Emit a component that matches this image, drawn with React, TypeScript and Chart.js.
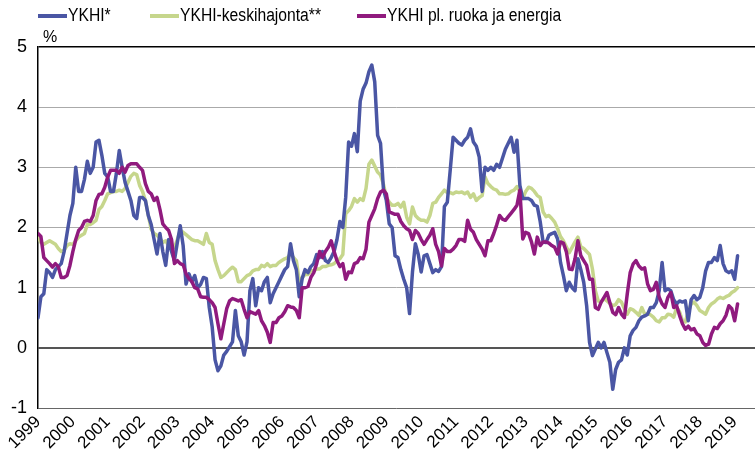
import React, { useEffect, useRef } from 'react';
import { Chart, registerables } from 'chart.js';

Chart.register(...registerables);

const yearLabels = ['1999','2000','2001','2002','2003','2004','2005','2006','2007','2008','2009','2010','2011','2012','2013','2014','2015','2016','2017','2018','2019'];

const seriesNames = ['YKHI*', 'YKHI-keskihajonta**', 'YKHI pl. ruoka ja energia'];

// Monthly values from Jan 1999
const ykhi = [
  0.5,0.85,0.9,1.3,1.25,1.17,1.3,1.35,1.4,1.6,1.9,2.2,
  2.4,3.0,2.6,2.6,2.8,3.1,2.9,3.0,3.42,3.45,3.2,2.9,
  2.84,2.6,2.6,2.9,3.28,3.0,2.75,2.6,2.45,2.2,2.15,2.5,
  2.5,2.45,2.2,2.05,1.8,1.56,1.9,1.6,1.37,1.8,1.6,1.45,
  1.75,2.03,1.7,1.06,1.23,1.1,1.2,1.0,1.05,1.17,1.15,0.67,
  0.35,-0.2,-0.38,-0.3,-0.12,-0.06,0.02,0.1,0.62,0.2,0.1,-0.12,
  0.1,0.95,1.15,0.7,1.0,0.95,1.1,1.17,0.75,0.9,1.0,1.1,
  1.2,1.3,1.35,1.73,1.45,1.3,0.85,1.15,1.3,1.25,1.35,1.4,
  1.55,1.5,1.6,1.45,1.42,1.5,1.6,1.8,2.1,2.0,2.5,3.42,
  3.35,3.56,3.26,4.1,4.3,4.4,4.59,4.7,4.42,3.53,3.4,2.64,
  2.45,2.06,2.0,1.53,1.5,1.3,1.14,1.0,0.57,1.26,1.73,1.55,
  1.26,1.53,1.55,1.4,1.25,1.3,1.27,1.35,2.35,2.42,2.95,3.5,
  3.45,3.4,3.37,3.45,3.5,3.64,3.42,3.35,3.17,2.6,3.0,2.95,
  3.0,2.95,3.05,3.0,3.15,3.3,3.4,3.5,3.25,3.45,2.7,2.48,
  2.48,2.48,2.45,2.37,2.35,2.1,1.76,1.75,1.87,1.9,1.92,1.81,
  1.42,1.2,0.95,1.09,1.0,0.95,1.48,1.3,1.09,0.7,0.09,-0.13,
  -0.02,0.09,0.0,0.09,-0.08,-0.24,-0.69,-0.36,-0.24,-0.2,0.0,-0.12,
  0.2,0.29,0.34,0.45,0.51,0.53,0.56,0.67,0.67,0.75,0.95,1.42,
  0.95,0.98,0.95,0.8,0.73,0.78,0.76,0.78,0.45,0.8,0.87,0.8,
  0.84,1.0,1.28,1.42,1.42,1.5,1.45,1.7,1.4,1.28,1.25,1.28,
  1.14,1.53
];

const keskihajonta = [
  1.85,1.75,1.72,1.75,1.78,1.75,1.72,1.65,1.6,1.62,1.7,1.73,
  1.72,1.78,1.84,1.87,1.9,2.05,2.05,2.08,2.12,2.3,2.35,2.45,
  2.56,2.58,2.6,2.6,2.62,2.6,2.65,2.75,2.85,2.9,2.88,2.7,
  2.6,2.45,2.2,1.97,1.9,1.87,1.82,1.75,1.78,1.7,1.67,1.67,
  1.8,1.95,1.92,1.88,1.84,1.8,1.78,1.78,1.75,1.72,1.9,1.75,
  1.72,1.45,1.3,1.17,1.2,1.25,1.3,1.34,1.3,1.1,1.1,1.15,
  1.2,1.22,1.28,1.3,1.3,1.37,1.35,1.4,1.35,1.37,1.37,1.42,
  1.45,1.48,1.5,1.57,1.5,1.45,1.1,1.17,1.22,1.22,1.28,1.28,
  1.31,1.31,1.35,1.35,1.37,1.38,1.4,1.45,1.48,1.55,2.23,2.28,
  2.35,2.48,2.42,2.48,2.45,2.65,3.05,3.12,3.02,2.92,2.87,2.72,
  2.5,2.42,2.37,2.37,2.4,2.34,2.42,2.17,2.06,2.34,2.2,2.15,
  2.12,2.12,2.09,2.2,2.4,2.42,2.5,2.56,2.62,2.58,2.58,2.56,
  2.59,2.58,2.59,2.56,2.59,2.5,2.56,2.45,2.5,2.53,2.84,2.73,
  2.68,2.64,2.62,2.56,2.56,2.55,2.56,2.6,2.62,2.68,2.6,2.48,
  2.6,2.67,2.65,2.6,2.53,2.5,2.26,2.18,2.2,2.15,2.09,1.98,
  1.85,1.78,1.68,1.58,1.67,1.76,1.84,1.68,1.65,1.6,1.55,1.31,
  0.95,0.78,0.76,0.82,0.78,0.74,0.7,0.72,0.8,0.76,0.65,0.56,
  0.65,0.63,0.59,0.54,0.67,0.56,0.57,0.55,0.51,0.45,0.43,0.5,
  0.5,0.56,0.55,0.51,0.67,0.6,0.45,0.43,0.6,0.73,0.76,0.7,
  0.62,0.59,0.56,0.67,0.73,0.76,0.81,0.84,0.82,0.85,0.87,0.92,
  0.95,1.0
];

const ilmanRuokaaEnergiaa = [
  1.9,1.85,1.5,1.45,1.4,1.34,1.4,1.35,1.17,1.17,1.2,1.37,
  1.6,1.8,1.95,2.0,2.1,2.12,2.1,2.2,2.45,2.55,2.56,2.67,
  2.84,2.95,2.95,2.95,2.9,3.0,2.92,3.03,3.06,3.06,3.06,3.0,
  2.95,2.73,2.6,2.56,2.45,2.5,2.3,2.06,2.0,1.95,1.8,1.4,
  1.45,1.4,1.38,1.23,1.15,1.1,1.0,0.98,0.85,0.84,0.84,0.8,
  0.75,0.67,0.4,0.15,0.4,0.65,0.78,0.82,0.8,0.78,0.8,0.64,
  0.5,0.6,0.58,0.56,0.62,0.45,0.37,0.26,0.09,0.42,0.42,0.5,
  0.53,0.6,0.7,0.68,0.67,0.62,0.5,1.0,1.0,1.02,1.17,1.25,
  1.4,1.6,1.5,1.6,1.67,1.78,1.6,1.45,1.35,1.4,1.14,1.26,
  1.25,1.4,1.42,1.5,1.48,1.64,2.09,2.2,2.31,2.48,2.59,2.62,
  2.56,2.26,2.24,2.22,2.22,2.1,2.03,1.98,1.95,1.8,1.95,1.9,
  1.8,1.72,1.8,1.87,1.98,1.72,1.6,1.36,1.65,1.6,1.6,1.64,
  1.7,1.8,1.8,1.77,2.12,1.97,1.92,1.8,1.72,1.64,1.53,1.78,
  1.78,1.9,2.04,2.2,2.14,2.12,2.18,2.24,2.3,2.37,2.62,1.81,
  1.92,1.9,1.76,1.56,1.84,1.7,1.76,1.76,1.74,1.7,1.67,1.56,
  1.76,1.74,1.6,1.31,1.3,1.48,1.78,1.53,1.45,1.37,1.14,1.14,
  0.67,0.64,0.76,0.84,0.92,0.75,0.59,0.55,0.67,0.56,0.5,0.9,
  1.25,1.39,1.45,1.36,1.31,1.33,1.06,0.95,0.97,1.09,0.84,0.73,
  0.67,0.84,0.92,0.67,0.7,0.54,0.4,0.31,0.36,0.3,0.32,0.23,
  0.2,0.09,0.04,0.06,0.23,0.34,0.32,0.4,0.45,0.54,0.7,0.65,
  0.45,0.73
];

const COLORS = ['#4a56a4', '#c6d68c', '#901a7e'];
const FONT = "'Liberation Sans', Arial, sans-serif";
const LEGEND_X = [38, 150, 357];

const toPoints = (arr: number[]) => arr.map((v, i) => ({ x: i, y: v }));

const overlayPlugin = {
  id: 'overlay',
  afterDraw(chart: any) {
    const ctx = chart.ctx;
    ctx.save();
    ctx.font = `18px ${FONT}`;
    ctx.textBaseline = 'middle';
    ctx.fillStyle = '#000';
    seriesNames.forEach((name, i) => {
      const x0 = LEGEND_X[i];
      ctx.strokeStyle = COLORS[i];
      ctx.lineWidth = 4;
      ctx.beginPath();
      ctx.moveTo(x0, 16);
      ctx.lineTo(x0 + 29, 16);
      ctx.stroke();
      ctx.save();
      ctx.translate(x0 + 30, 16);
      ctx.scale(0.87, 1);
      ctx.fillText(name, 0, 0);
      ctx.restore();
    });
    ctx.save();
    ctx.font = `16px ${FONT}`;
    ctx.fillText('%', 43, 38);
    ctx.restore();
    ctx.restore();
  },
};

export default function App() {
  const ref = useRef<HTMLCanvasElement>(null);
  useEffect(() => {
    document.body.style.margin = '0';
    const canvas = ref.current!;
    const chart = new Chart(canvas, {
      type: 'line',
      data: {
        datasets: [
          { label: seriesNames[0], data: toPoints(ykhi), borderColor: COLORS[0], order: 1 },
          { label: seriesNames[1], data: toPoints(keskihajonta), borderColor: COLORS[1], order: 2 },
          { label: seriesNames[2], data: toPoints(ilmanRuokaaEnergiaa), borderColor: COLORS[2], order: 0 },
        ],
      },
      options: {
        responsive: false,
        animation: false,
        devicePixelRatio: 1,
        layout: { padding: { top: 47, left: 0, right: 0, bottom: 0 } },
        elements: {
          point: { radius: 0 },
          line: { borderWidth: 3.5, tension: 0, borderJoinStyle: 'round', borderCapStyle: 'round' },
        },
        plugins: { legend: { display: false }, tooltip: { enabled: false } },
        scales: {
          x: {
            type: 'linear',
            min: 0,
            max: 247,
            afterFit: (s: any) => { s.height = 47; },
            grid: { display: false, drawTicks: false },
            border: { display: false },
            ticks: {
              stepSize: 12,
              includeBounds: false,
              autoSkip: false,
              maxRotation: 45,
              minRotation: 45,
              padding: 4,
              color: '#000',
              font: { family: FONT, size: 17 },
              callback: (v: any) => (Number(v) % 12 === 0 ? yearLabels[Number(v) / 12] : ''),
            },
          },
          y: {
            min: -1,
            max: 5,
            afterFit: (s: any) => { s.width = 38; },
            grid: {
              drawTicks: false,
              color: (c: any) => (c.tick.value === 5 ? '#000' : c.tick.value === 0 ? '#555' : c.tick.value === -1 ? '#666' : '#aaa'),
              lineWidth: (c: any) => (c.tick.value === 0 ? 2 : c.tick.value === 5 ? 1.5 : 1),
            },
            border: { display: true, color: '#000', width: 1.5 },
            ticks: {
              stepSize: 1,
              padding: 11,
              color: '#000',
              font: { family: FONT, size: 18 },
            },
          },
        },
      },
      plugins: [overlayPlugin],
    } as any);
    return () => chart.destroy();
  }, []);
  return <canvas ref={ref} width={755} height={455} style={{ display: 'block' }} />;
}
